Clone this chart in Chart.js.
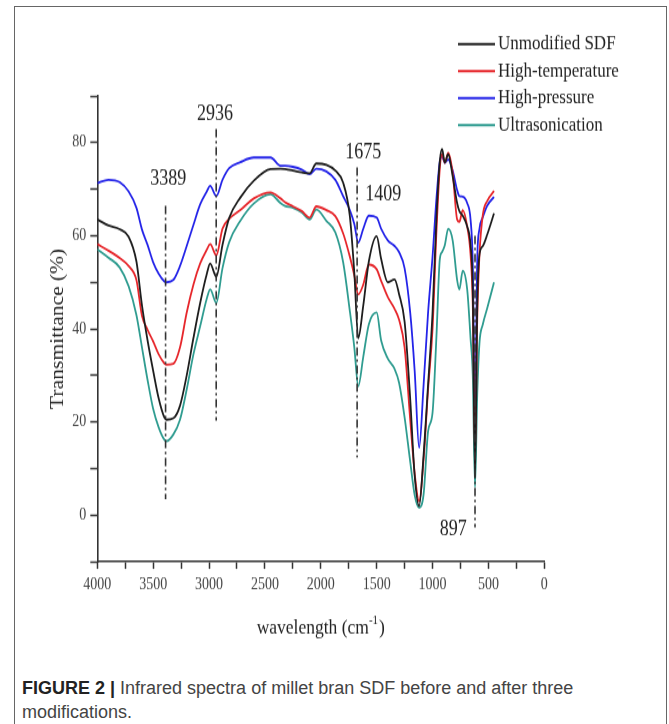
<!DOCTYPE html>
<html>
<head>
<meta charset="utf-8">
<script src="https://cdn.jsdelivr.net/npm/chart.js@4.4.0/dist/chart.umd.min.js"></script>
<style>
    body {margin: 0; background: #fff; width: 669px; height: 724px; overflow: hidden; position: relative;}
    .frame {position: absolute; left: 14px; top: 6px; width: 653px; height: 740px; border: 1.5px solid #666; border-bottom: none; box-sizing: border-box;}
    .plot {position: absolute; left: 0; top: 0; width: 669px; height: 550px; transform: scaleY(1.2); transform-origin: 0 0;}
    .caption {position: absolute; left: 22px; top: 676px; font: 18px "Liberation Sans", Arial, sans-serif; color: #444; line-height: 24px; white-space: nowrap;}
    .caption b {color: #222;}
</style>
</head>
<body>
<div class="frame"></div>
<div class="plot"><canvas id="chart" width="669" height="550"></canvas></div>
<div class="caption"><b>FIGURE 2 |</b> Infrared spectra of millet bran SDF before and after three<br>modifications.</div>

<script>
// wavenumber (cm-1) for every sample, shared by the four spectra
const wavenumbers = [4000, 3900, 3800, 3720, 3650, 3600, 3550, 3500, 3450, 3400,
    3380, 3320, 3260, 3200, 3140, 3080, 3020, 2990, 2935, 2880,
    2820, 2720, 2600, 2450, 2360, 2320, 2250, 2170, 2100, 2040,
    1950, 1870, 1800, 1740, 1700, 1665, 1620, 1570, 1500, 1460,
    1400, 1340, 1300, 1250, 1200, 1160, 1120, 1080, 1040, 1000,
    965, 935, 915, 890, 860, 820, 780, 760, 730, 690,
    660, 640, 620, 600, 580, 550, 510, 450];

const unmodified = [63.5, 62.2, 61.4, 59.8, 54.5, 45.0, 37.5, 31.0, 25.0, 21.0,
    20.5, 20.8, 23.5, 30.0, 38.0, 45.5, 51.8, 54.0, 51.2, 58.0,
    63.8, 68.2, 71.8, 74.3, 74.4, 74.3, 74.0, 73.6, 73.4, 75.5,
    75.2, 74.0, 71.4, 64.2, 52.0, 38.0, 45.0, 54.5, 59.9, 55.0,
    50.0, 50.6, 47.5, 41.5, 25.0, 8.5, 2.0, 13.0, 28.0, 43.5,
    64.0, 76.0, 78.6, 75.7, 77.5, 72.8, 67.0, 65.3, 64.3, 62.0,
    58.0, 48.0, 8.0, 45.0, 56.0, 57.8, 60.3, 64.8];

const highTemperature = [58.2, 56.8, 55.2, 53.5, 50.5, 42.8, 39.8, 37.3, 34.5, 32.6,
    32.3, 32.5, 36.0, 43.5, 49.5, 54.0, 57.0, 58.2, 55.8, 61.5,
    63.6, 65.5, 68.0, 69.3, 68.0, 67.2, 66.3, 65.3, 63.9, 66.3,
    65.5, 64.2, 60.5, 55.5, 51.5, 47.4, 49.5, 53.8, 52.8, 50.3,
    46.8, 44.3, 42.0, 36.0, 20.5, 9.0, 3.0, 12.0, 27.0, 40.0,
    61.0, 74.5, 77.5, 75.7, 77.8, 73.5, 63.5, 63.0, 65.5, 62.0,
    56.0, 45.0, 12.0, 42.0, 56.0, 64.5, 67.5, 69.6];

const highPressure = [71.3, 72.0, 71.5, 69.5, 66.0, 61.3, 58.0, 54.3, 51.8, 50.2,
    50.0, 50.5, 53.5, 57.8, 62.3, 66.7, 69.5, 70.7, 68.5, 72.0,
    74.5, 75.8, 76.8, 76.8, 75.0, 75.0, 74.8, 74.2, 73.2, 74.4,
    73.8, 72.0, 68.5, 65.5, 62.5, 58.5, 61.5, 64.3, 63.9, 61.5,
    59.0, 57.8, 56.5, 53.0, 43.5, 31.0, 14.5, 28.0, 43.5, 55.5,
    68.0, 76.0, 77.0, 75.7, 76.4, 74.0, 69.8, 68.5, 68.4, 67.0,
    63.5, 54.0, 22.0, 55.0, 61.5, 64.0, 66.5, 68.3];

const ultrasonication = [57.1, 55.3, 53.2, 49.2, 43.0, 36.0, 29.0, 22.8, 18.8, 16.2,
    15.9, 17.3, 20.5, 27.0, 34.5, 40.5, 46.5, 48.5, 45.6, 53.0,
    58.6, 63.2, 66.9, 68.9, 67.0, 66.4, 66.0, 65.0, 63.5, 65.6,
    63.2, 60.7, 54.3, 43.8, 36.0, 27.7, 34.0, 41.0, 43.5, 37.5,
    33.6, 31.4, 28.5, 21.0, 11.5, 4.3, 1.6, 4.5, 18.0, 22.0,
    38.5, 55.0, 56.5, 58.0, 61.5, 59.0, 50.5, 48.5, 52.5, 48.5,
    38.0, 30.0, 6.0, 26.0, 37.0, 41.0, 44.5, 50.0];

const seriesNames = ['Unmodified SDF', 'High-temperature', 'High-pressure', 'Ultrasonication'];
const seriesValues = [unmodified, highTemperature, highPressure, ultrasonication];
const seriesColors = ['#1e1e1e', '#e6262b', '#2424e8', '#2f9c90'];

// x tick labels every 500, y tick labels every 20
const xTickLabels = [4000, 3500, 3000, 2500, 2000, 1500, 1000, 500, 0];
const yTickLabels = [0, 20, 40, 60, 80];

// peak markers: wavenumber of the dash-dot line and its extent in %
const markWavenumbers = [3389, 2936, 1675, 620];
const markTop = [66.4, 82.9, 74.7, 60];
const markBottom = [3.4, 20.3, 12.4, -2.6];

// peak labels and where they sit (wavenumber, %)
const peakLabels = ['3389', '2936', '1675', '1409', '897'];
const peakLabelX = [3365, 2947, 1620, 1441, 814];
const peakLabelY = [72.1, 86.1, 77.9, 68.9, -3.2];

const SERIF = '"Liberation Serif", "Times New Roman", serif';

const extrasPlugin = {
    id: 'spectraExtras',
    afterDraw: function (chart) {
        let ctx = chart.ctx,
            area = chart.chartArea,
            xs = chart.scales.x,
            ys = chart.scales.y;
        ctx.save();

        // dash-dot peak lines
        ctx.strokeStyle = '#333';
        ctx.lineWidth = 1.6;
        ctx.setLineDash([7, 3, 2, 3]);
        markWavenumbers.forEach((w, i) => {
            let px = xs.getPixelForValue(w);
            ctx.beginPath();
            ctx.moveTo(px, ys.getPixelForValue(markTop[i]));
            ctx.lineTo(px, ys.getPixelForValue(markBottom[i]));
            ctx.stroke();
        });
        ctx.setLineDash([]);

        // peak labels
        ctx.fillStyle = '#222';
        ctx.font = '18px ' + SERIF;
        ctx.textAlign = 'center';
        ctx.textBaseline = 'middle';
        peakLabels.forEach((t, i) => {
            ctx.fillText(t, xs.getPixelForValue(peakLabelX[i]), ys.getPixelForValue(peakLabelY[i]));
        });

        // legend, top right
        ctx.font = '17px ' + SERIF;
        ctx.textAlign = 'left';
        chart.data.datasets.forEach((ds, i) => {
            let ly = 36.7 + i * 22.5;
            ctx.strokeStyle = ds.borderColor;
            ctx.lineWidth = 2;
            ctx.beginPath();
            ctx.moveTo(458, ly);
            ctx.lineTo(495, ly);
            ctx.stroke();
            ctx.fillStyle = '#222';
            ctx.fillText(ds.label, 498, ly);
        });

        // x axis title with superscript
        let cx = (area.left + area.right) / 2,
            ty = area.bottom + 55,
            main = 'wavelength (cm',
            sup = '-1',
            close = ')';
        ctx.font = '17.5px ' + SERIF;
        let wMain = ctx.measureText(main).width,
            wClose = ctx.measureText(close).width;
        ctx.font = '11px ' + SERIF;
        let wSup = ctx.measureText(sup).width + 1;
        let sx = cx - (wMain + wSup + wClose) / 2;
        ctx.font = '17.5px ' + SERIF;
        ctx.fillText(main, sx, ty);
        ctx.fillText(close, sx + wMain + wSup, ty);
        ctx.font = '11px ' + SERIF;
        ctx.fillText(sup, sx + wMain, ty - 6);

        ctx.restore();
    }
};

let datasets = seriesNames.map((name, i) => ({
    label: name,
    data: wavenumbers.map((w, j) => ({x: w, y: seriesValues[i][j]})),
    borderColor: seriesColors[i],
    backgroundColor: seriesColors[i],
    borderWidth: 1.8,
    pointRadius: 0,
    fill: false,
    cubicInterpolationMode: 'monotone'
}));

new Chart(document.getElementById('chart'), {
    type: 'line',
    data: {datasets: datasets},
    plugins: [extrasPlugin],
    options: {
        responsive: false,
        animation: false,
        devicePixelRatio: 1,
        layout: {padding: {left: 0, top: 80, right: 124.7, bottom: 0}},
        plugins: {legend: {display: false}, tooltip: {enabled: false}},
        scales: {
            x: {
                type: 'linear',
                reverse: true,
                min: 0,
                max: 4000,
                afterFit: function (scale) {
                    scale.height = 81.9;
                },
                border: {display: true, color: '#333', width: 1.6},
                grid: {drawOnChartArea: false, drawTicks: true, tickLength: 6, tickColor: '#333', tickWidth: 1.5},
                ticks: {
                    stepSize: 250,
                    autoSkip: false,
                    maxRotation: 0,
                    padding: 5,
                    color: '#444',
                    font: {family: SERIF, size: 14},
                    callback: v => xTickLabels.includes(v) ? String(v) : ''
                }
            },
            y: {
                min: -10,
                max: 90,
                afterFit: function (scale) {
                    scale.width = 97.3;
                },
                border: {display: true, color: '#333', width: 1.6},
                grid: {drawOnChartArea: false, drawTicks: true, tickLength: 7, tickColor: '#333', tickWidth: 1.5},
                ticks: {
                    stepSize: 10,
                    padding: 4,
                    color: '#444',
                    font: {family: SERIF, size: 14},
                    callback: v => yTickLabels.includes(v) ? String(v) : ''
                },
                title: {
                    display: true,
                    text: 'Transmittance (%)',
                    color: '#222',
                    font: {family: SERIF, size: 18},
                    padding: {top: 47, bottom: 0}
                }
            }
        }
    }
});
</script>
</body>
</html>
